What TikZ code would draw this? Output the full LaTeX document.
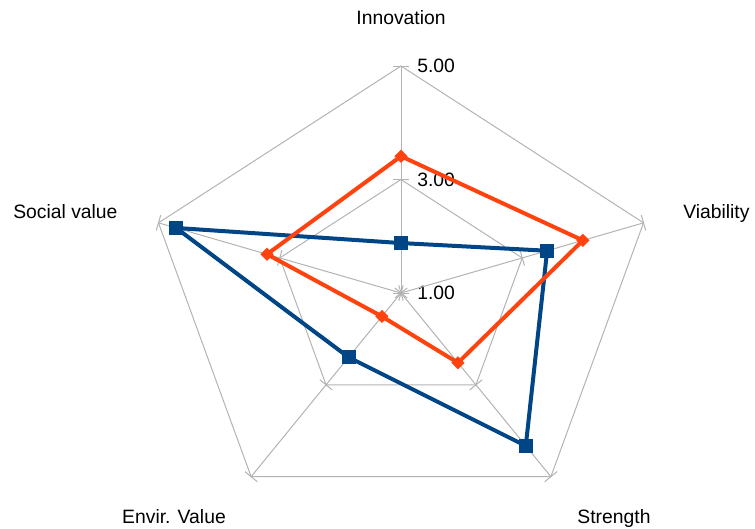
\documentclass[tikz,border=0pt]{standalone}
\usepackage{fontspec}
\setmainfont{Liberation Sans}
\usetikzlibrary{calc,shapes.geometric}
\definecolor{gridgray}{HTML}{B3B3B3}
\definecolor{serblue}{HTML}{004586}
\definecolor{serorange}{HTML}{FF420E}
\begin{document}
\begin{tikzpicture}[x=0.75pt,y=-0.75pt,
  gridline/.style={draw=gridgray,line width=0.75pt},
  lbl/.style={inner sep=0pt,font=\fontsize{14.5}{17}\selectfont},
  sqmark/.style={rectangle,fill=serblue,inner sep=0pt,minimum size=10.5pt},
  dmmark/.style={diamond,fill=serorange,inner sep=0pt,minimum width=10pt,minimum height=10pt},
  blueline/.style={draw=serblue,line width=3pt,line join=miter},
  orangeline/.style={draw=serorange,line width=3pt,line join=miter}]
\useasboundingbox (0,0) rectangle (755,528);
% labels (pixel coordinates)
\node[lbl,anchor=base] (tInn) at (401,25) {Innovation};
\node[lbl,anchor=base west] (tVia) at (683,218) {Viability};
\node[lbl,anchor=base] (tStr) at (614,523) {Strength};
\node[lbl,anchor=base] (tEnv) at (174,523) {Envir. Value};
\node[lbl,anchor=base west] (tSoc) at (13,218) {Social value};
\node[lbl,anchor=base west] (v5) at (417,73) {5.00};
\node[lbl,anchor=base west] (v3) at (417,186) {3.00};
\node[lbl,anchor=base west] (v1) at (417,299) {1.00};
\begin{scope}[shift={(401,293)},x={(191.25pt,0pt)},y={(0pt,170.25pt)}]
  \coordinate (ctr) at (0,0);
  % rings
  \draw[gridline] (90:0.5) -- (18:0.5) -- (-54:0.5) -- (-126:0.5) -- (162:0.5) -- cycle;
  \draw[gridline] (90:1) -- (18:1) -- (-54:1) -- (-126:1) -- (162:1) -- cycle;
  % axes and ticks
  \foreach \a in {90,18,-54,-126,162} {
    \coordinate (ax) at (\a:1);
    \draw[gridline] (ctr) -- (ax);
    \foreach \f in {0,0.5,1} {
      \pgfmathsetmacro\g{\f+1}
      \draw[gridline] ($(\a:\f)!6pt!90:(\a:\g)$) -- ($(\a:\f)!6pt!-90:(\a:\g)$);
    }
  }
  % blue series
  \coordinate (b1) at (90:0.22);
  \coordinate (b2) at (18:0.6025);
  \coordinate (b3) at (-54:0.8325);
  \coordinate (b4) at (-126:0.35);
  \coordinate (b5) at (162:0.9275);
  \draw[blueline] (b1) -- (b2) -- (b3) -- (b4) -- (b5) -- cycle;
  \foreach \i in {1,...,5} { \node[sqmark] (mb\i) at (b\i) {}; }
  % orange series
  \coordinate (o1) at (90:0.6025);
  \coordinate (o2) at (18:0.75);
  \coordinate (o3) at (-54:0.38);
  \coordinate (o4) at (-126:0.1275);
  \coordinate (o5) at (162:0.5525);
  \draw[orangeline] (o1) -- (o2) -- (o3) -- (o4) -- (o5) -- cycle;
  \foreach \i in {1,...,5} { \node[dmmark] (mo\i) at (o\i) {}; }
\end{scope}
\end{tikzpicture}
\end{document}
